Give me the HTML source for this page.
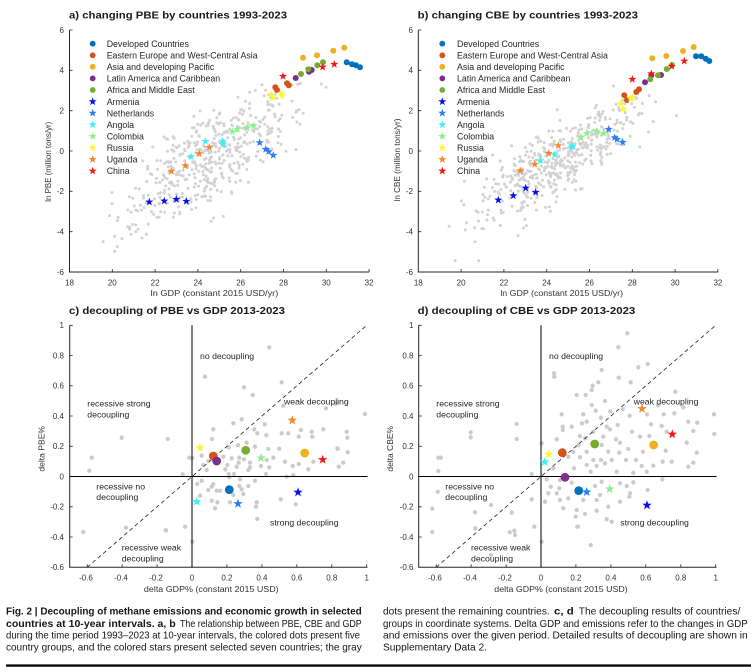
<!DOCTYPE html>
<html><head><meta charset="utf-8"><style>
html,body{margin:0;padding:0;background:#fff;}
svg{display:block;font-family:"Liberation Sans",Arial,sans-serif;}
.t{font-size:10.5px;font-weight:bold;fill:#1a1a1a;}
.lg{font-size:8.8px;fill:#262626;}
.tk{font-size:8px;fill:#333;}
.al{font-size:8px;fill:#333;}
.rg{font-size:8.7px;fill:#262626;}
.cap{font-size:10.5px;fill:#161616;}
.b{font-weight:bold;}
.ax{stroke:#262626;stroke-width:1;fill:none;}
.tm{stroke:#262626;stroke-width:0.8;}
</style></head><body>
<svg width="754" height="672" viewBox="0 0 754 672" xmlns="http://www.w3.org/2000/svg">
<defs>
<path id="s" d="M0,-1L0.235,-0.324L0.951,-0.309L0.38,0.124L0.588,0.809L0,0.4L-0.588,0.809L-0.38,0.124L-0.951,-0.309L-0.235,-0.324Z"/>
</defs>
<rect width="754" height="672" fill="#fff"/>

<!-- ============ PANEL A ============ -->
<text class="t" x="69" y="18.5" textLength="218" lengthAdjust="spacingAndGlyphs">a) changing PBE by countries 1993-2023</text>
<g id="ca" fill="#d2d2d2"></g>
<path class="ax" d="M69.5,30V272H369.1"/>
<path class="tm" d="M69.5,30h3M69.5,70.3h3M69.5,110.7h3M69.5,151h3M69.5,191.3h3M69.5,231.7h3M112.3,272v-3M155.1,272v-3M197.9,272v-3M240.7,272v-3M283.5,272v-3M326.3,272v-3M369.1,272v-3"/>
<g class="tk" text-anchor="end">
<text x="64" y="32.9">6</text><text x="64" y="73.2">4</text><text x="64" y="113.6">2</text><text x="64" y="153.9">0</text><text x="64" y="194.2">-2</text><text x="64" y="234.6">-4</text><text x="64" y="274.9">-6</text>
</g>
<g class="tk" text-anchor="middle">
<text x="69.5" y="285.5">18</text><text x="112.3" y="285.5">20</text><text x="155.1" y="285.5">22</text><text x="197.9" y="285.5">24</text><text x="240.7" y="285.5">26</text><text x="283.5" y="285.5">28</text><text x="326.3" y="285.5">30</text><text x="369.1" y="285.5">32</text>
</g>
<text class="al" x="214.5" y="296" text-anchor="middle" textLength="127.6" lengthAdjust="spacingAndGlyphs">ln GDP (constant 2015 USD/yr)</text>
<text class="al" transform="translate(51.2,161.7) rotate(-90)" text-anchor="middle" textLength="80" lengthAdjust="spacingAndGlyphs">ln PBE (million tons/yr)</text>

<!-- legend a -->
<g>
<circle cx="92.7" cy="43.7" r="2.9" fill="#0072BD"/>
<circle cx="92.7" cy="55.3" r="2.9" fill="#D95319"/>
<circle cx="92.7" cy="66.8" r="2.9" fill="#EDB120"/>
<circle cx="92.7" cy="78.4" r="2.9" fill="#7E2F8E"/>
<circle cx="92.7" cy="90" r="2.9" fill="#77AC30"/>
<use href="#s" transform="translate(92.7,101.6) scale(4.3)" fill="#0a10e8"/>
<use href="#s" transform="translate(92.7,113.1) scale(4.3)" fill="#2a7ef5"/>
<use href="#s" transform="translate(92.7,124.7) scale(4.3)" fill="#3ef0f5"/>
<use href="#s" transform="translate(92.7,136.3) scale(4.3)" fill="#8af28a"/>
<use href="#s" transform="translate(92.7,147.8) scale(4.3)" fill="#f8f832"/>
<use href="#s" transform="translate(92.7,159.4) scale(4.3)" fill="#f5862a"/>
<use href="#s" transform="translate(92.7,171) scale(4.3)" fill="#f01818"/>
</g>
<g class="lg">
<text x="106.7" y="46.9">Developed Countries</text>
<text x="106.7" y="58.5">Eastern Europe and West-Central Asia</text>
<text x="106.7" y="70">Asia and developing Pacific</text>
<text x="106.7" y="81.6">Latin America and Caribbean</text>
<text x="106.7" y="93.2">Africa and Middle East</text>
<text x="106.7" y="104.8">Armenia</text>
<text x="106.7" y="116.3">Netherlands</text>
<text x="106.7" y="127.9">Angola</text>
<text x="106.7" y="139.5">Colombia</text>
<text x="106.7" y="151">Russia</text>
<text x="106.7" y="162.6">Uganda</text>
<text x="106.7" y="174.2">China</text>
</g>

<!-- markers a -->
<g fill="#0072BD"><circle cx="346.7" cy="62.3" r="3"/><circle cx="352" cy="64.3" r="3"/><circle cx="356" cy="65.3" r="3"/><circle cx="360" cy="67.3" r="3"/></g>
<g fill="#D95319"><circle cx="275.3" cy="87.3" r="3"/><circle cx="277" cy="90" r="3"/><circle cx="287" cy="83.3" r="3"/><circle cx="288.7" cy="85.3" r="3"/></g>
<g fill="#EDB120"><circle cx="303" cy="57.7" r="3"/><circle cx="317" cy="55.3" r="3"/><circle cx="333.3" cy="50.7" r="3"/><circle cx="344.3" cy="47.7" r="3"/></g>
<g fill="#7E2F8E"><circle cx="295.7" cy="78" r="3"/><circle cx="309" cy="71.7" r="3"/><circle cx="311.7" cy="70" r="3"/></g>
<g fill="#77AC30"><circle cx="301" cy="74" r="3"/><circle cx="308.3" cy="69.3" r="3"/><circle cx="317.3" cy="65.3" r="3"/><circle cx="323" cy="62.3" r="3"/></g>
<g fill="#0a10e8"><use href="#s" transform="translate(149.3,202) scale(4.3)"/><use href="#s" transform="translate(164.3,201) scale(4.3)"/><use href="#s" transform="translate(176.3,199.3) scale(4.3)"/><use href="#s" transform="translate(186.3,201.3) scale(4.3)"/></g>
<g fill="#2a7ef5"><use href="#s" transform="translate(259.7,142.7) scale(4.3)"/><use href="#s" transform="translate(265.7,149.3) scale(4.3)"/><use href="#s" transform="translate(268.7,151.7) scale(4.3)"/><use href="#s" transform="translate(273.3,155.3) scale(4.3)"/></g>
<g fill="#3ef0f5"><use href="#s" transform="translate(191,156.7) scale(4.3)"/><use href="#s" transform="translate(205.3,141.3) scale(4.3)"/><use href="#s" transform="translate(222.7,141) scale(4.3)"/><use href="#s" transform="translate(223,144.3) scale(4.3)"/></g>
<g fill="#8af28a"><use href="#s" transform="translate(232.3,131.7) scale(4.3)"/><use href="#s" transform="translate(237.3,129.3) scale(4.3)"/><use href="#s" transform="translate(247,128) scale(4.3)"/><use href="#s" transform="translate(253.7,125.7) scale(4.3)"/></g>
<g fill="#f8f832"><use href="#s" transform="translate(271.3,94.7) scale(4.3)"/><use href="#s" transform="translate(272.7,97.7) scale(4.3)"/><use href="#s" transform="translate(281.7,93.3) scale(4.3)"/><use href="#s" transform="translate(282,95.7) scale(4.3)"/></g>
<g fill="#f5862a"><use href="#s" transform="translate(171.3,171.3) scale(4.3)"/><use href="#s" transform="translate(185.3,165.7) scale(4.3)"/><use href="#s" transform="translate(199.3,153.7) scale(4.3)"/><use href="#s" transform="translate(209.3,147.3) scale(4.3)"/></g>
<g fill="#f01818"><use href="#s" transform="translate(283,76.3) scale(4.3)"/><use href="#s" transform="translate(322.7,67) scale(4.3)"/><use href="#s" transform="translate(334.3,64.3) scale(4.3)"/></g>

<!-- ============ PANEL B ============ -->
<text class="t" x="417.7" y="18.5" textLength="220.3" lengthAdjust="spacingAndGlyphs">b) changing CBE by countries 1993-2023</text>
<g id="cb" fill="#d2d2d2"></g>
<path class="ax" d="M418.3,30V272H717.9"/>
<path class="tm" d="M418.3,30h3M418.3,70.3h3M418.3,110.7h3M418.3,151h3M418.3,191.3h3M418.3,231.7h3M461.1,272v-3M503.9,272v-3M546.7,272v-3M589.5,272v-3M632.3,272v-3M675.1,272v-3M717.9,272v-3"/>
<g class="tk" text-anchor="end">
<text x="413" y="32.9">6</text><text x="413" y="73.2">4</text><text x="413" y="113.6">2</text><text x="413" y="153.9">0</text><text x="413" y="194.2">-2</text><text x="413" y="234.6">-4</text><text x="413" y="274.9">-6</text>
</g>
<g class="tk" text-anchor="middle">
<text x="418.3" y="285.5">18</text><text x="461.1" y="285.5">20</text><text x="503.9" y="285.5">22</text><text x="546.7" y="285.5">24</text><text x="589.5" y="285.5">26</text><text x="632.3" y="285.5">28</text><text x="675.1" y="285.5">30</text><text x="717.9" y="285.5">32</text>
</g>
<text class="al" x="561.7" y="296" text-anchor="middle" textLength="122.7" lengthAdjust="spacingAndGlyphs">ln GDP (constant 2015 USD/yr)</text>
<text class="al" transform="translate(399.9,160) rotate(-90)" text-anchor="middle" textLength="83" lengthAdjust="spacingAndGlyphs">ln CBE (million tons/yr)</text>

<g>
<circle cx="442.3" cy="43.7" r="2.9" fill="#0072BD"/>
<circle cx="442.3" cy="55.3" r="2.9" fill="#D95319"/>
<circle cx="442.3" cy="66.8" r="2.9" fill="#EDB120"/>
<circle cx="442.3" cy="78.4" r="2.9" fill="#7E2F8E"/>
<circle cx="442.3" cy="90" r="2.9" fill="#77AC30"/>
<use href="#s" transform="translate(442.3,101.6) scale(4.3)" fill="#0a10e8"/>
<use href="#s" transform="translate(442.3,113.1) scale(4.3)" fill="#2a7ef5"/>
<use href="#s" transform="translate(442.3,124.7) scale(4.3)" fill="#3ef0f5"/>
<use href="#s" transform="translate(442.3,136.3) scale(4.3)" fill="#8af28a"/>
<use href="#s" transform="translate(442.3,147.8) scale(4.3)" fill="#f8f832"/>
<use href="#s" transform="translate(442.3,159.4) scale(4.3)" fill="#f5862a"/>
<use href="#s" transform="translate(442.3,171) scale(4.3)" fill="#f01818"/>
</g>
<g class="lg">
<text x="457" y="46.9">Developed Countries</text>
<text x="457" y="58.5">Eastern Europe and West-Central Asia</text>
<text x="457" y="70">Asia and developing Pacific</text>
<text x="457" y="81.6">Latin America and Caribbean</text>
<text x="457" y="93.2">Africa and Middle East</text>
<text x="457" y="104.8">Armenia</text>
<text x="457" y="116.3">Netherlands</text>
<text x="457" y="127.9">Angola</text>
<text x="457" y="139.5">Colombia</text>
<text x="457" y="151">Russia</text>
<text x="457" y="162.6">Uganda</text>
<text x="457" y="174.2">China</text>
</g>

<g fill="#0072BD"><circle cx="696" cy="56.3" r="3"/><circle cx="701.3" cy="56.3" r="3"/><circle cx="705.7" cy="58.7" r="3"/><circle cx="709.3" cy="61" r="3"/></g>
<g fill="#D95319"><circle cx="624.3" cy="95.3" r="3"/><circle cx="627" cy="100" r="3"/><circle cx="636.3" cy="92" r="3"/><circle cx="639" cy="89.3" r="3"/></g>
<g fill="#EDB120"><circle cx="652.3" cy="58.3" r="3"/><circle cx="666.3" cy="56" r="3"/><circle cx="683" cy="51" r="3"/><circle cx="693.7" cy="47" r="3"/></g>
<g fill="#7E2F8E"><circle cx="645" cy="82.3" r="3"/><circle cx="651.3" cy="75.3" r="3"/><circle cx="661" cy="75" r="3"/></g>
<g fill="#77AC30"><circle cx="650.3" cy="79.3" r="3"/><circle cx="658" cy="75.3" r="3"/><circle cx="666.7" cy="69" r="3"/><circle cx="672" cy="65" r="3"/></g>
<g fill="#0a10e8"><use href="#s" transform="translate(498.3,200) scale(4.3)"/><use href="#s" transform="translate(513.3,195.7) scale(4.3)"/><use href="#s" transform="translate(525.7,188) scale(4.3)"/><use href="#s" transform="translate(535.7,192.3) scale(4.3)"/></g>
<g fill="#2a7ef5"><use href="#s" transform="translate(608.7,129.3) scale(4.3)"/><use href="#s" transform="translate(614.7,137.7) scale(4.3)"/><use href="#s" transform="translate(617,139.3) scale(4.3)"/><use href="#s" transform="translate(622.7,142.3) scale(4.3)"/></g>
<g fill="#3ef0f5"><use href="#s" transform="translate(540.3,160.7) scale(4.3)"/><use href="#s" transform="translate(554.7,154.7) scale(4.3)"/><use href="#s" transform="translate(571.7,147) scale(4.3)"/><use href="#s" transform="translate(572.7,146) scale(4.3)"/></g>
<g fill="#8af28a"><use href="#s" transform="translate(581,137) scale(4.3)"/><use href="#s" transform="translate(586.7,133.3) scale(4.3)"/><use href="#s" transform="translate(596.7,131.3) scale(4.3)"/><use href="#s" transform="translate(603.7,133.3) scale(4.3)"/></g>
<g fill="#f8f832"><use href="#s" transform="translate(620.7,103.7) scale(4.3)"/><use href="#s" transform="translate(623.3,109.3) scale(4.3)"/><use href="#s" transform="translate(630.7,98.7) scale(4.3)"/><use href="#s" transform="translate(632.3,97.7) scale(4.3)"/></g>
<g fill="#f5862a"><use href="#s" transform="translate(520.3,170.7) scale(4.3)"/><use href="#s" transform="translate(534.7,164.3) scale(4.3)"/><use href="#s" transform="translate(548.7,153.3) scale(4.3)"/><use href="#s" transform="translate(558.3,145.7) scale(4.3)"/></g>
<g fill="#f01818"><use href="#s" transform="translate(632.3,79.3) scale(4.3)"/><use href="#s" transform="translate(651.3,73.7) scale(4.3)"/><use href="#s" transform="translate(671.7,66.3) scale(4.3)"/><use href="#s" transform="translate(684.3,61) scale(4.3)"/></g>

<!-- ============ PANEL C ============ -->
<text class="t" x="69" y="314" textLength="216" lengthAdjust="spacingAndGlyphs">c) decoupling of PBE vs GDP 2013-2023</text>
<path fill="none" stroke="#cbcbcb" stroke-width="4.3" stroke-linecap="round" d="M269.3,347.3h0M205,376.7h0M281.7,382.3h0M244,387.3h0M252.7,395h0M283.3,405.7h0M326,408.3h0M365,414h0M241.7,419.3h0M233.3,423.3h0M264.7,424.3h0M213.3,429.3h0M254.3,429.3h0M301,430h0M311.7,431.7h0M323.3,429.3h0M281.7,433.3h0M288.3,433.3h0M257.3,433.3h0M266.3,435.3h0M298.7,436.7h0M312.3,436.7h0M347.3,437.7h0M167.7,439h0M212,439h0M246.7,442.7h0M238,445h0M228.7,447.3h0M255,446.7h0M268.3,449h0M279.3,448.7h0M337.7,448.7h0M347.7,452.3h0M201.7,455.7h0M223.3,456.7h0M231.7,458.3h0M239.3,457.7h0M273.3,457.7h0M189.3,457.7h0M192.3,458h0M208.3,461h0M238.7,462.7h0M250,462.7h0M244,459.3h0M266.7,460h0M285,461.7h0M313.3,461.7h0M343.3,462.7h0M203.3,465h0M227.3,465h0M236.7,466.7h0M250,467.3h0M261,466h0M269.3,467.3h0M292.7,466h0M298.7,464h0M308.3,469.3h0M338.7,466.7h0M206.7,470h0M228.7,474h0M234,474h0M266,474h0M182.7,474.3h0M286.7,476.7h0M293.3,475h0M229.3,477.3h0M240,479.3h0M255,480.7h0M201.7,480.7h0M197.3,484h0M213.3,484h0M220,490.7h0M211.7,486.7h0M239.3,486h0M248.3,486h0M208.3,490h0M216.7,490.7h0M241.7,489.3h0M233.3,495h0M243.3,494h0M200,495.7h0M230,502.3h0M211.7,500.7h0M217.3,502.3h0M256.7,502.3h0M280.7,499.3h0M295.7,504.3h0M215,508.3h0M256,506.7h0M257.3,519h0M185,526.7h0M166,530.3h0M192.3,541.7h0M248.3,470h0M225.3,469.3h0M91.7,457.7h0M89.3,470.7h0M121.7,437.7h0M83.3,532h0M126,527.7h0M165.7,530.3h0M335.7,403.7h0M337.3,448.3h0M346.7,431.7h0"/>
<path class="ax" d="M69.7,325.3V567.3H367.5"/>
<path stroke="#000" stroke-width="1" d="M192,325.3V567.3M69.7,476.5H367.5"/>
<path stroke="#222" stroke-width="0.8" stroke-dasharray="4,3" d="M87.2,567.3L366.7,325.3"/>
<path class="tm" d="M69.7,325.3h3M69.7,355.5h3M69.7,385.8h3M69.7,416h3M69.7,446.3h3M69.7,506.8h3M69.7,537h3M87.2,567.3v-3M122.1,567.3v-3M157.1,567.3v-3M226.9,567.3v-3M261.9,567.3v-3M296.8,567.3v-3M331.8,567.3v-3M366.7,567.3v-3"/>
<g class="tk" text-anchor="end">
<text x="64" y="328.2">1</text><text x="64" y="358.4">0.8</text><text x="64" y="388.7">0.6</text><text x="64" y="418.9">0.4</text><text x="64" y="449.2">0.2</text><text x="64" y="479.4">0</text><text x="64" y="509.7">-0.2</text><text x="64" y="539.9">-0.4</text><text x="64" y="570.2">-0.6</text>
</g>
<g class="tk" text-anchor="middle">
<text x="86" y="580.5">-0.6</text><text x="121" y="580.5">-0.4</text><text x="156" y="580.5">-0.2</text><text x="192" y="580.5">0</text><text x="226.9" y="580.5">0.2</text><text x="261.9" y="580.5">0.4</text><text x="296.8" y="580.5">0.6</text><text x="331.8" y="580.5">0.8</text><text x="366.7" y="580.5">1</text>
</g>
<text class="al" x="211.3" y="592" text-anchor="middle" textLength="134.7" lengthAdjust="spacingAndGlyphs">delta GDP% (constant 2015 USD)</text>
<text class="al" transform="translate(44.6,448.8) rotate(-90)" text-anchor="middle" textLength="45.7" lengthAdjust="spacingAndGlyphs">delta PBE%</text>
<g class="rg">
<text x="200" y="359">no decoupling</text>
<text x="87.3" y="406.3">recessive strong</text>
<text x="87.3" y="417.3">decoupling</text>
<text x="284" y="404.7">weak decoupling</text>
<text x="96.3" y="489.7">recessive no</text>
<text x="96.3" y="500">decoupling</text>
<text x="270" y="525.3">strong decoupling</text>
<text x="121.7" y="550.3">recessive weak</text>
<text x="121.7" y="561.3">decoupling</text>
</g>
<use href="#s" transform="translate(200,447.7) scale(5)" fill="#f8f832"/>
<circle cx="213.3" cy="456" r="4.4" fill="#D95319"/>
<circle cx="216.7" cy="461" r="4.4" fill="#7E2F8E"/>
<circle cx="245.7" cy="450.3" r="4.4" fill="#77AC30"/>
<use href="#s" transform="translate(261,458) scale(5)" fill="#8af28a"/>
<use href="#s" transform="translate(292.3,420.3) scale(5)" fill="#f5862a"/>
<circle cx="304.7" cy="453" r="4.4" fill="#EDB120"/>
<use href="#s" transform="translate(322.7,459.7) scale(5)" fill="#f01818"/>
<circle cx="229.3" cy="489.7" r="4.4" fill="#0072BD"/>
<use href="#s" transform="translate(238,503.7) scale(5)" fill="#2a7ef5"/>
<use href="#s" transform="translate(298,492.3) scale(5)" fill="#0a10e8"/>
<use href="#s" transform="translate(196.7,501.7) scale(5)" fill="#3ef0f5"/>

<!-- ============ PANEL D ============ -->
<text class="t" x="417.7" y="314" textLength="217.6" lengthAdjust="spacingAndGlyphs">d) decoupling of CBE vs GDP 2013-2023</text>
<path fill="none" stroke="#cbcbcb" stroke-width="4.3" stroke-linecap="round" d="M627.3,333.3h0M618.3,347.3h0M647.7,364h0M638.3,367.3h0M601.7,370h0M554,373.3h0M554.3,376.7h0M618.7,377.7h0M598.3,382.3h0M592.7,385.7h0M630.7,382.3h0M591.7,390h0M576.7,395h0M585.7,395h0M675.3,391.7h0M605,401h0M591.7,405h0M622.7,409.3h0M595.7,410.7h0M610.3,411.3h0M658,405.3h0M683.3,407.3h0M561.7,414.3h0M583.3,414.3h0M629.7,415.7h0M601,417.7h0M647,414.3h0M663.7,414.3h0M674.3,413.3h0M714,414.3h0M516.7,424h0M582,423.3h0M586.7,421.7h0M571.7,426.7h0M562.7,426.7h0M606.7,426.7h0M617.7,425h0M688.3,421.7h0M697.3,422.7h0M651,424.3h0M661.7,426h0M562.7,430h0M593.3,431.7h0M610,429.3h0M632,431.7h0M666.7,431.7h0M693.3,431h0M714.3,434h0M470.7,432.3h0M470.7,437.3h0M516.7,439h0M580,436h0M585,438.3h0M603.3,436.7h0M616,439.3h0M620,442.7h0M640,436.7h0M649.3,436h0M556.7,439.3h0M541.7,443.3h0M578.7,445h0M601.7,445h0M628.3,449h0M686.7,442.7h0M573.3,451.7h0M586.7,451.7h0M608.3,451.7h0M619.3,452.7h0M643,451.7h0M665.7,450.7h0M696.7,452.7h0M440.7,457.7h0M568.3,456.7h0M580,457.3h0M593.3,460h0M601,460h0M611.7,460h0M626,460h0M636,460h0M662.7,461.7h0M671.7,461.7h0M693.3,462.7h0M586.7,465h0M596.7,466h0M605,463.3h0M641.7,466h0M653.3,465.7h0M688.3,466.7h0M438.3,471h0M553.3,468.3h0M574,468.3h0M590.7,471.7h0M616.7,471.7h0M633.3,472.7h0M646.7,471.7h0M531.7,474h0M546.7,479.3h0M560,480h0M571.7,482.7h0M601.7,481.7h0M620,483.3h0M633.3,482.3h0M662.3,479.3h0M550.7,486.7h0M559.3,488.3h0M595,486h0M626.7,486h0M548.3,493.3h0M556.7,493.3h0M600,495h0M630,493.3h0M647.7,490h0M437.7,491.7h0M531.7,499.3h0M545,501.7h0M560,500h0M568.3,498.3h0M583.3,500h0M596.7,500h0M620,501.7h0M629.3,496.7h0M491,505h0M432.3,508.7h0M563.3,508.3h0M576.7,510h0M596.7,510.7h0M608.3,506.7h0M475,512.3h0M511.7,512.7h0M575.7,516.7h0M585,514h0M606.7,519.3h0M611.7,521.7h0M475.3,528.3h0M514.3,530.7h0M577.3,526.7h0M432.3,532h0M515,535h0M534.3,526.7h0M541.7,541.7h0M590.7,545h0M491,555h0M438.3,457.7h0M509.7,532.3h0M578,526.7h0"/>
<path class="ax" d="M418.7,325.3V567.3H716.5"/>
<path stroke="#000" stroke-width="1" d="M541,325.3V567.3M418.7,476.5H716.5"/>
<path stroke="#222" stroke-width="0.8" stroke-dasharray="4,3" d="M436.2,567.3L715.7,325.3"/>
<path class="tm" d="M418.7,325.3h3M418.7,355.5h3M418.7,385.8h3M418.7,416h3M418.7,446.3h3M418.7,506.8h3M418.7,537h3M436.2,567.3v-3M471.1,567.3v-3M506.1,567.3v-3M575.9,567.3v-3M610.9,567.3v-3M645.8,567.3v-3M680.8,567.3v-3M715.7,567.3v-3"/>
<g class="tk" text-anchor="end">
<text x="413.5" y="328.2">1</text><text x="413.5" y="358.4">0.8</text><text x="413.5" y="388.7">0.6</text><text x="413.5" y="418.9">0.4</text><text x="413.5" y="449.2">0.2</text><text x="413.5" y="479.4">0</text><text x="413.5" y="509.7">-0.2</text><text x="413.5" y="539.9">-0.4</text><text x="413.5" y="570.2">-0.6</text>
</g>
<g class="tk" text-anchor="middle">
<text x="435" y="580.5">-0.6</text><text x="470" y="580.5">-0.4</text><text x="505" y="580.5">-0.2</text><text x="541" y="580.5">0</text><text x="575.9" y="580.5">0.2</text><text x="610.9" y="580.5">0.4</text><text x="645.8" y="580.5">0.6</text><text x="680.8" y="580.5">0.8</text><text x="715.7" y="580.5">1</text>
</g>
<text class="al" x="561" y="592" text-anchor="middle" textLength="133.4" lengthAdjust="spacingAndGlyphs">delta GDP% (constant 2015 USD)</text>
<text class="al" transform="translate(393.2,448.8) rotate(-90)" text-anchor="middle" textLength="45.7" lengthAdjust="spacingAndGlyphs">delta CBE%</text>
<g class="rg">
<text x="549" y="359">no decoupling</text>
<text x="436.3" y="406.3">recessive strong</text>
<text x="436.3" y="417.3">decoupling</text>
<text x="633.7" y="404.7">weak decoupling</text>
<text x="445.3" y="489.7">recessive no</text>
<text x="445.3" y="500">decoupling</text>
<text x="620.3" y="525.3">strong decoupling</text>
<text x="471" y="550.3">recessive weak</text>
<text x="471" y="561.3">decoupling</text>
</g>
<use href="#s" transform="translate(548.7,454.3) scale(5)" fill="#f8f832"/>
<use href="#s" transform="translate(544.7,462) scale(5)" fill="#3ef0f5"/>
<circle cx="562.3" cy="452.7" r="4.4" fill="#D95319"/>
<circle cx="594.7" cy="444" r="4.4" fill="#77AC30"/>
<circle cx="565" cy="477.3" r="4.4" fill="#7E2F8E"/>
<circle cx="578.7" cy="490.7" r="4.4" fill="#0072BD"/>
<use href="#s" transform="translate(586.7,492) scale(5)" fill="#2a7ef5"/>
<use href="#s" transform="translate(609.7,489) scale(5)" fill="#8af28a"/>
<use href="#s" transform="translate(642,408.7) scale(5)" fill="#f5862a"/>
<use href="#s" transform="translate(672.3,434.3) scale(5)" fill="#f01818"/>
<circle cx="653.7" cy="445" r="4.4" fill="#EDB120"/>
<use href="#s" transform="translate(647,505.3) scale(5)" fill="#0a10e8"/>

<!-- ============ CAPTION ============ -->
<g class="cap">
<text class="b" x="6" y="614.5" textLength="355.7" lengthAdjust="spacingAndGlyphs">Fig. 2 | Decoupling of methane emissions and economic growth in selected</text>
<text class="b" x="6" y="626.8" textLength="169.7" lengthAdjust="spacingAndGlyphs">countries at 10-year intervals. a, b</text>
<text x="180" y="626.8" textLength="181.7" lengthAdjust="spacingAndGlyphs">The relationship between PBE, CBE and GDP</text>
<text x="6" y="638.7" textLength="354" lengthAdjust="spacingAndGlyphs">during the time period 1993–2023 at 10-year intervals, the colored dots present five</text>
<text x="6" y="650.4" textLength="355.7" lengthAdjust="spacingAndGlyphs">country groups, and the colored stars present selected seven countries; the gray</text>
<text x="383" y="614.5" textLength="166.7" lengthAdjust="spacingAndGlyphs">dots present the remaining countries.</text>
<text class="b" x="554" y="614.5" textLength="19.7" lengthAdjust="spacingAndGlyphs">c, d</text>
<text x="578.7" y="614.5" textLength="161.6" lengthAdjust="spacingAndGlyphs">The decoupling results of countries/</text>
<text x="383" y="626.8" textLength="364.7" lengthAdjust="spacingAndGlyphs">groups in coordinate systems. Delta GDP and emissions refer to the changes in GDP</text>
<text x="383" y="638.7" textLength="364.7" lengthAdjust="spacingAndGlyphs">and emissions over the given period. Detailed results of decoupling are shown in</text>
<text x="383" y="650.4" textLength="104" lengthAdjust="spacingAndGlyphs">Supplementary Data 2.</text>
</g>
<rect x="6" y="664.4" width="745" height="2.3" fill="#000"/>
</svg>
<script>
(function(){
function rng(a){return function(){a|=0;a=a+0x6D2B79F5|0;var t=Math.imul(a^a>>>15,1|a);t=t+Math.imul(t^t>>>7,61|t)^t;return((t^t>>>14)>>>0)/4294967296;};}
function nrm(r){var u=1-r(),v=r();return Math.sqrt(-2*Math.log(u))*Math.cos(2*Math.PI*v);}
var NS="http://www.w3.org/2000/svg";
function cloud(id,x0,a,b,s,seed,n){
  var r=rng(seed),g=document.getElementById(id),c=0,guard=0;
  while(c<n&&guard<20000){guard++;
    var x=24.6+2.0*nrm(r); if(x<19.3||x>30.8)continue;
    var y=a+b*(x-22)+s*nrm(r); if(y<-5.7||y>3.4)continue;
    var px=x0+(x-18)*21.4, py=151-y*20.17;
    var e=document.createElementNS(NS,"circle");
    e.setAttribute("cx",px.toFixed(1));e.setAttribute("cy",py.toFixed(1));e.setAttribute("r","1.5");
    g.appendChild(e);c++;
  }
}
cloud("ca",69.5,-2.0,0.6,1.15,12345,470);
cloud("cb",418.3,-2.1,0.62,0.85,67890,470);
})();
</script>
</body></html>
